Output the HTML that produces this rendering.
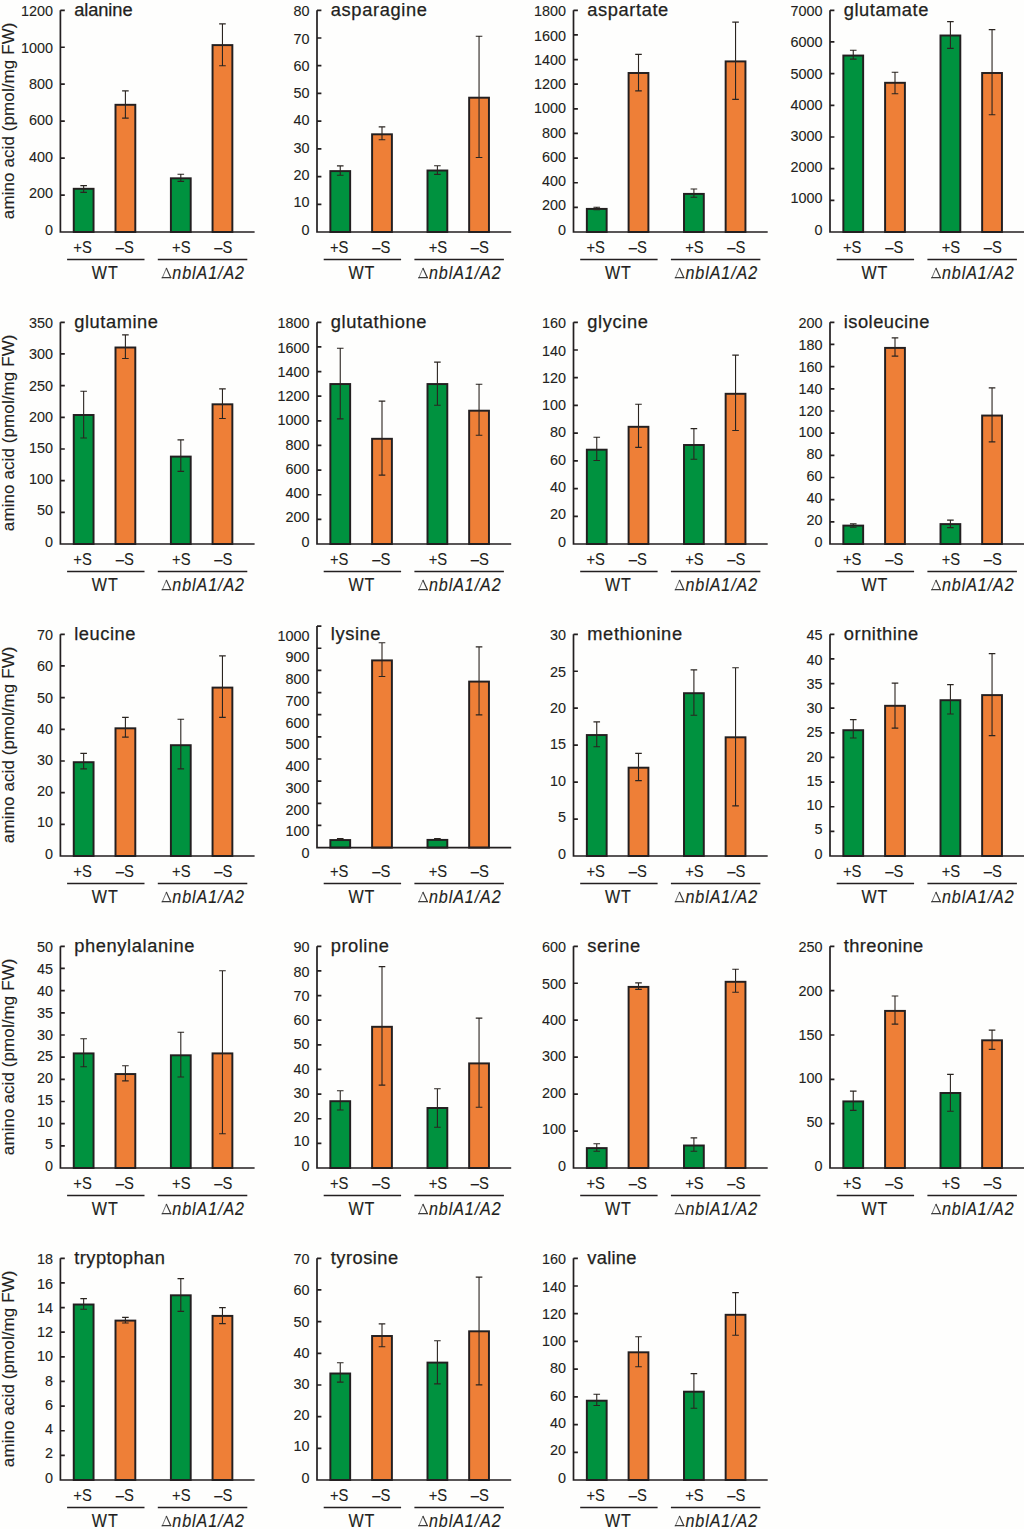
<!DOCTYPE html>
<html><head><meta charset="utf-8"><title>amino acids</title>
<style>
html,body{margin:0;padding:0;background:#fefefd;width:1024px;height:1529px;overflow:hidden}
svg{display:block}
text{font-family:"Liberation Sans",sans-serif;fill:#231f20;stroke:#231f20;stroke-width:0.1px}
.tl{font-size:14.4px;text-anchor:end}
.ti{font-size:18.3px;stroke-width:0.25px}
.xl{font-size:16.8px;text-anchor:middle}
.gl{font-size:18.3px;text-anchor:middle;letter-spacing:1px;stroke-width:0.15px}
.yl{font-size:17px;text-anchor:middle;letter-spacing:0.09px}
.gi{font-size:18.3px;font-style:italic;letter-spacing:1.05px;stroke-width:0.15px}
</style></head><body>
<svg width="1024" height="1529" viewBox="0 0 1024 1529">
<rect width="1024" height="1529" fill="#fefefd"/>
<g transform="translate(0,0)">
<rect x="73.75" y="188.8" width="19.8" height="43.2" fill="#00923f" stroke="#231f20" stroke-width="1.95"/>
<rect x="115.5" y="104.8" width="19.8" height="127.2" fill="#ee7f37" stroke="#231f20" stroke-width="1.95"/>
<rect x="170.9" y="178.3" width="19.8" height="53.7" fill="#00923f" stroke="#231f20" stroke-width="1.95"/>
<rect x="212.55" y="45.1" width="19.8" height="186.9" fill="#ee7f37" stroke="#231f20" stroke-width="1.95"/>
<path d="M83.65 185.6V192.4M80.35 185.6h6.6M80.35 192.4h6.6" stroke="#2a2420" stroke-width="1.1" fill="none"/>
<path d="M125.4 90.9V118.1M122.1 90.9h6.6M122.1 118.1h6.6" stroke="#2a2420" stroke-width="1.1" fill="none"/>
<path d="M180.8 174.3V181.4M177.5 174.3h6.6M177.5 181.4h6.6" stroke="#2a2420" stroke-width="1.1" fill="none"/>
<path d="M222.45 23.9V65.8M219.15 23.9h6.6M219.15 65.8h6.6" stroke="#2a2420" stroke-width="1.1" fill="none"/>
<path d="M60.4 10.3V232H254.6M60.4 10.3h4.4M60.4 47.25h4.4M60.4 84.2h4.4M60.4 121.15h4.4M60.4 158.1h4.4M60.4 195.05h4.4" stroke="#231f20" stroke-width="1.7" fill="none"/>
<text x="53" y="16.3" class="tl">1200</text>
<text x="53" y="52.68" class="tl">1000</text>
<text x="53" y="89.07" class="tl">800</text>
<text x="53" y="125.45" class="tl">600</text>
<text x="53" y="161.83" class="tl">400</text>
<text x="53" y="198.22" class="tl">200</text>
<text x="53" y="234.6" class="tl">0</text>
<text transform="translate(74.2,15.7) scale(1,1)" class="ti" style="letter-spacing:-0.1px">alanine</text>
<text transform="translate(82.6,252.8) scale(0.88,1)" class="xl">+S</text>
<text transform="translate(124.8,252.8) scale(0.88,1)" class="xl">–S</text>
<text transform="translate(181.3,252.8) scale(0.88,1)" class="xl">+S</text>
<text transform="translate(223.2,252.8) scale(0.88,1)" class="xl">–S</text>
<path d="M67.1 259.5H144.5M157.8 259.5H247.3" stroke="#231f20" stroke-width="1.5" fill="none"/>
<text transform="translate(105.2,278.7) scale(0.88,1)" class="gl">WT</text>
<path d="M162.1 278.3L166.5 267.9" stroke="#555" stroke-width="0.8" fill="none"/><path d="M166.3 267.9L171.0 278.3M161.7 277.7H171.4" stroke="#3a3a3a" stroke-width="1.2" fill="none"/>
<text transform="translate(172.3,278.6) scale(0.88,1)" class="gi">nblA1/A2</text>
<text transform="translate(13.5,120.8) rotate(-90)" class="yl">amino acid (pmol/mg FW)</text>
</g>
<g transform="translate(256.6,0)">
<rect x="73.75" y="171.1" width="19.8" height="60.9" fill="#00923f" stroke="#231f20" stroke-width="1.95"/>
<rect x="115.5" y="134.3" width="19.8" height="97.7" fill="#ee7f37" stroke="#231f20" stroke-width="1.95"/>
<rect x="170.9" y="170.5" width="19.8" height="61.5" fill="#00923f" stroke="#231f20" stroke-width="1.95"/>
<rect x="212.55" y="97.7" width="19.8" height="134.3" fill="#ee7f37" stroke="#231f20" stroke-width="1.95"/>
<path d="M83.65 165.9V175.3M80.35 165.9h6.6M80.35 175.3h6.6" stroke="#2a2420" stroke-width="1.1" fill="none"/>
<path d="M125.4 126.9V139.7M122.1 126.9h6.6M122.1 139.7h6.6" stroke="#2a2420" stroke-width="1.1" fill="none"/>
<path d="M180.8 165.75V174.4M177.5 165.75h6.6M177.5 174.4h6.6" stroke="#2a2420" stroke-width="1.1" fill="none"/>
<path d="M222.45 36.2V157.5M219.15 36.2h6.6M219.15 157.5h6.6" stroke="#2a2420" stroke-width="1.1" fill="none"/>
<path d="M60.4 10.3V232H254.6M60.4 10.3h4.4M60.4 38.01h4.4M60.4 65.72h4.4M60.4 93.44h4.4M60.4 121.15h4.4M60.4 148.86h4.4M60.4 176.57h4.4M60.4 204.29h4.4" stroke="#231f20" stroke-width="1.7" fill="none"/>
<text x="53" y="16.3" class="tl">80</text>
<text x="53" y="43.59" class="tl">70</text>
<text x="53" y="70.88" class="tl">60</text>
<text x="53" y="98.16" class="tl">50</text>
<text x="53" y="125.45" class="tl">40</text>
<text x="53" y="152.74" class="tl">30</text>
<text x="53" y="180.03" class="tl">20</text>
<text x="53" y="207.31" class="tl">10</text>
<text x="53" y="234.6" class="tl">0</text>
<text transform="translate(74.2,15.7) scale(1,1)" class="ti" style="letter-spacing:0.62px">asparagine</text>
<text transform="translate(82.6,252.8) scale(0.88,1)" class="xl">+S</text>
<text transform="translate(124.8,252.8) scale(0.88,1)" class="xl">–S</text>
<text transform="translate(181.3,252.8) scale(0.88,1)" class="xl">+S</text>
<text transform="translate(223.2,252.8) scale(0.88,1)" class="xl">–S</text>
<path d="M67.1 259.5H144.5M157.8 259.5H247.3" stroke="#231f20" stroke-width="1.5" fill="none"/>
<text transform="translate(105.2,278.7) scale(0.88,1)" class="gl">WT</text>
<path d="M162.1 278.3L166.5 267.9" stroke="#555" stroke-width="0.8" fill="none"/><path d="M166.3 267.9L171.0 278.3M161.7 277.7H171.4" stroke="#3a3a3a" stroke-width="1.2" fill="none"/>
<text transform="translate(172.3,278.6) scale(0.88,1)" class="gi">nblA1/A2</text>
</g>
<g transform="translate(513.1,0)">
<rect x="73.75" y="208.9" width="19.8" height="23.1" fill="#00923f" stroke="#231f20" stroke-width="1.95"/>
<rect x="115.5" y="73" width="19.8" height="159" fill="#ee7f37" stroke="#231f20" stroke-width="1.95"/>
<rect x="170.9" y="193.9" width="19.8" height="38.1" fill="#00923f" stroke="#231f20" stroke-width="1.95"/>
<rect x="212.55" y="61.4" width="19.8" height="170.6" fill="#ee7f37" stroke="#231f20" stroke-width="1.95"/>
<path d="M83.65 207.2V209.6M80.35 207.2h6.6M80.35 209.6h6.6" stroke="#2a2420" stroke-width="1.1" fill="none"/>
<path d="M125.4 54.4V90.9M122.1 54.4h6.6M122.1 90.9h6.6" stroke="#2a2420" stroke-width="1.1" fill="none"/>
<path d="M180.8 189V197.3M177.5 189h6.6M177.5 197.3h6.6" stroke="#2a2420" stroke-width="1.1" fill="none"/>
<path d="M222.45 22.1V99.4M219.15 22.1h6.6M219.15 99.4h6.6" stroke="#2a2420" stroke-width="1.1" fill="none"/>
<path d="M60.4 10.3V232H254.6M60.4 10.3h4.4M60.4 34.93h4.4M60.4 59.57h4.4M60.4 84.2h4.4M60.4 108.83h4.4M60.4 133.47h4.4M60.4 158.1h4.4M60.4 182.73h4.4M60.4 207.37h4.4" stroke="#231f20" stroke-width="1.7" fill="none"/>
<text x="53" y="16.3" class="tl">1800</text>
<text x="53" y="40.56" class="tl">1600</text>
<text x="53" y="64.81" class="tl">1400</text>
<text x="53" y="89.07" class="tl">1200</text>
<text x="53" y="113.32" class="tl">1000</text>
<text x="53" y="137.58" class="tl">800</text>
<text x="53" y="161.83" class="tl">600</text>
<text x="53" y="186.09" class="tl">400</text>
<text x="53" y="210.34" class="tl">200</text>
<text x="53" y="234.6" class="tl">0</text>
<text transform="translate(74.2,15.7) scale(1,1)" class="ti" style="letter-spacing:0.59px">aspartate</text>
<text transform="translate(82.6,252.8) scale(0.88,1)" class="xl">+S</text>
<text transform="translate(124.8,252.8) scale(0.88,1)" class="xl">–S</text>
<text transform="translate(181.3,252.8) scale(0.88,1)" class="xl">+S</text>
<text transform="translate(223.2,252.8) scale(0.88,1)" class="xl">–S</text>
<path d="M67.1 259.5H144.5M157.8 259.5H247.3" stroke="#231f20" stroke-width="1.5" fill="none"/>
<text transform="translate(105.2,278.7) scale(0.88,1)" class="gl">WT</text>
<path d="M162.1 278.3L166.5 267.9" stroke="#555" stroke-width="0.8" fill="none"/><path d="M166.3 267.9L171.0 278.3M161.7 277.7H171.4" stroke="#3a3a3a" stroke-width="1.2" fill="none"/>
<text transform="translate(172.3,278.6) scale(0.88,1)" class="gi">nblA1/A2</text>
</g>
<g transform="translate(769.6,0)">
<rect x="73.75" y="55.55" width="19.8" height="176.45" fill="#00923f" stroke="#231f20" stroke-width="1.95"/>
<rect x="115.5" y="82.8" width="19.8" height="149.2" fill="#ee7f37" stroke="#231f20" stroke-width="1.95"/>
<rect x="170.9" y="35.5" width="19.8" height="196.5" fill="#00923f" stroke="#231f20" stroke-width="1.95"/>
<rect x="212.55" y="73" width="19.8" height="159" fill="#ee7f37" stroke="#231f20" stroke-width="1.95"/>
<path d="M83.65 50.25V59.1M80.35 50.25h6.6M80.35 59.1h6.6" stroke="#2a2420" stroke-width="1.1" fill="none"/>
<path d="M125.4 72.2V93.75M122.1 72.2h6.6M122.1 93.75h6.6" stroke="#2a2420" stroke-width="1.1" fill="none"/>
<path d="M180.8 21.6V48.4M177.5 21.6h6.6M177.5 48.4h6.6" stroke="#2a2420" stroke-width="1.1" fill="none"/>
<path d="M222.45 29.6V114.75M219.15 29.6h6.6M219.15 114.75h6.6" stroke="#2a2420" stroke-width="1.1" fill="none"/>
<path d="M60.4 10.3V232H254.6M60.4 10.3h4.4M60.4 41.97h4.4M60.4 73.64h4.4M60.4 105.31h4.4M60.4 136.99h4.4M60.4 168.66h4.4M60.4 200.33h4.4" stroke="#231f20" stroke-width="1.7" fill="none"/>
<text x="53" y="16.3" class="tl">7000</text>
<text x="53" y="47.49" class="tl">6000</text>
<text x="53" y="78.67" class="tl">5000</text>
<text x="53" y="109.86" class="tl">4000</text>
<text x="53" y="141.04" class="tl">3000</text>
<text x="53" y="172.23" class="tl">2000</text>
<text x="53" y="203.41" class="tl">1000</text>
<text x="53" y="234.6" class="tl">0</text>
<text transform="translate(74.2,15.7) scale(1,1)" class="ti" style="letter-spacing:0.53px">glutamate</text>
<text transform="translate(82.6,252.8) scale(0.88,1)" class="xl">+S</text>
<text transform="translate(124.8,252.8) scale(0.88,1)" class="xl">–S</text>
<text transform="translate(181.3,252.8) scale(0.88,1)" class="xl">+S</text>
<text transform="translate(223.2,252.8) scale(0.88,1)" class="xl">–S</text>
<path d="M67.1 259.5H144.5M157.8 259.5H247.3" stroke="#231f20" stroke-width="1.5" fill="none"/>
<text transform="translate(105.2,278.7) scale(0.88,1)" class="gl">WT</text>
<path d="M162.1 278.3L166.5 267.9" stroke="#555" stroke-width="0.8" fill="none"/><path d="M166.3 267.9L171.0 278.3M161.7 277.7H171.4" stroke="#3a3a3a" stroke-width="1.2" fill="none"/>
<text transform="translate(172.3,278.6) scale(0.88,1)" class="gi">nblA1/A2</text>
</g>
<g transform="translate(0,312)">
<rect x="73.75" y="103" width="19.8" height="129" fill="#00923f" stroke="#231f20" stroke-width="1.95"/>
<rect x="115.5" y="35.5" width="19.8" height="196.5" fill="#ee7f37" stroke="#231f20" stroke-width="1.95"/>
<rect x="170.9" y="144.6" width="19.8" height="87.4" fill="#00923f" stroke="#231f20" stroke-width="1.95"/>
<rect x="212.55" y="92.3" width="19.8" height="139.7" fill="#ee7f37" stroke="#231f20" stroke-width="1.95"/>
<path d="M83.65 79.3V126M80.35 79.3h6.6M80.35 126h6.6" stroke="#2a2420" stroke-width="1.1" fill="none"/>
<path d="M125.4 22.9V46.5M122.1 22.9h6.6M122.1 46.5h6.6" stroke="#2a2420" stroke-width="1.1" fill="none"/>
<path d="M180.8 127.9V159.4M177.5 127.9h6.6M177.5 159.4h6.6" stroke="#2a2420" stroke-width="1.1" fill="none"/>
<path d="M222.45 76.9V106.5M219.15 76.9h6.6M219.15 106.5h6.6" stroke="#2a2420" stroke-width="1.1" fill="none"/>
<path d="M60.4 10.3V232H254.6M60.4 10.3h4.4M60.4 41.97h4.4M60.4 73.64h4.4M60.4 105.31h4.4M60.4 136.99h4.4M60.4 168.66h4.4M60.4 200.33h4.4" stroke="#231f20" stroke-width="1.7" fill="none"/>
<text x="53" y="16.3" class="tl">350</text>
<text x="53" y="47.49" class="tl">300</text>
<text x="53" y="78.67" class="tl">250</text>
<text x="53" y="109.86" class="tl">200</text>
<text x="53" y="141.04" class="tl">150</text>
<text x="53" y="172.23" class="tl">100</text>
<text x="53" y="203.41" class="tl">50</text>
<text x="53" y="234.6" class="tl">0</text>
<text transform="translate(74.2,15.7) scale(1,1)" class="ti" style="letter-spacing:0.56px">glutamine</text>
<text transform="translate(82.6,252.8) scale(0.88,1)" class="xl">+S</text>
<text transform="translate(124.8,252.8) scale(0.88,1)" class="xl">–S</text>
<text transform="translate(181.3,252.8) scale(0.88,1)" class="xl">+S</text>
<text transform="translate(223.2,252.8) scale(0.88,1)" class="xl">–S</text>
<path d="M67.1 259.5H144.5M157.8 259.5H247.3" stroke="#231f20" stroke-width="1.5" fill="none"/>
<text transform="translate(105.2,278.7) scale(0.88,1)" class="gl">WT</text>
<path d="M162.1 278.3L166.5 267.9" stroke="#555" stroke-width="0.8" fill="none"/><path d="M166.3 267.9L171.0 278.3M161.7 277.7H171.4" stroke="#3a3a3a" stroke-width="1.2" fill="none"/>
<text transform="translate(172.3,278.6) scale(0.88,1)" class="gi">nblA1/A2</text>
<text transform="translate(13.5,120.8) rotate(-90)" class="yl">amino acid (pmol/mg FW)</text>
</g>
<g transform="translate(256.6,312)">
<rect x="73.75" y="72.05" width="19.8" height="159.95" fill="#00923f" stroke="#231f20" stroke-width="1.95"/>
<rect x="115.5" y="126.8" width="19.8" height="105.2" fill="#ee7f37" stroke="#231f20" stroke-width="1.95"/>
<rect x="170.9" y="72.05" width="19.8" height="159.95" fill="#00923f" stroke="#231f20" stroke-width="1.95"/>
<rect x="212.55" y="98.7" width="19.8" height="133.3" fill="#ee7f37" stroke="#231f20" stroke-width="1.95"/>
<path d="M83.65 36.2V106.9M80.35 36.2h6.6M80.35 106.9h6.6" stroke="#2a2420" stroke-width="1.1" fill="none"/>
<path d="M125.4 89.1V163.1M122.1 89.1h6.6M122.1 163.1h6.6" stroke="#2a2420" stroke-width="1.1" fill="none"/>
<path d="M180.8 50.1V93.2M177.5 50.1h6.6M177.5 93.2h6.6" stroke="#2a2420" stroke-width="1.1" fill="none"/>
<path d="M222.45 72.2V123.2M219.15 72.2h6.6M219.15 123.2h6.6" stroke="#2a2420" stroke-width="1.1" fill="none"/>
<path d="M60.4 10.3V232H254.6M60.4 10.3h4.4M60.4 34.93h4.4M60.4 59.57h4.4M60.4 84.2h4.4M60.4 108.83h4.4M60.4 133.47h4.4M60.4 158.1h4.4M60.4 182.73h4.4M60.4 207.37h4.4" stroke="#231f20" stroke-width="1.7" fill="none"/>
<text x="53" y="16.3" class="tl">1800</text>
<text x="53" y="40.56" class="tl">1600</text>
<text x="53" y="64.81" class="tl">1400</text>
<text x="53" y="89.07" class="tl">1200</text>
<text x="53" y="113.32" class="tl">1000</text>
<text x="53" y="137.58" class="tl">800</text>
<text x="53" y="161.83" class="tl">600</text>
<text x="53" y="186.09" class="tl">400</text>
<text x="53" y="210.34" class="tl">200</text>
<text x="53" y="234.6" class="tl">0</text>
<text transform="translate(74.2,15.7) scale(1,1)" class="ti" style="letter-spacing:0.62px">glutathione</text>
<text transform="translate(82.6,252.8) scale(0.88,1)" class="xl">+S</text>
<text transform="translate(124.8,252.8) scale(0.88,1)" class="xl">–S</text>
<text transform="translate(181.3,252.8) scale(0.88,1)" class="xl">+S</text>
<text transform="translate(223.2,252.8) scale(0.88,1)" class="xl">–S</text>
<path d="M67.1 259.5H144.5M157.8 259.5H247.3" stroke="#231f20" stroke-width="1.5" fill="none"/>
<text transform="translate(105.2,278.7) scale(0.88,1)" class="gl">WT</text>
<path d="M162.1 278.3L166.5 267.9" stroke="#555" stroke-width="0.8" fill="none"/><path d="M166.3 267.9L171.0 278.3M161.7 277.7H171.4" stroke="#3a3a3a" stroke-width="1.2" fill="none"/>
<text transform="translate(172.3,278.6) scale(0.88,1)" class="gi">nblA1/A2</text>
</g>
<g transform="translate(513.1,312)">
<rect x="73.75" y="137.7" width="19.8" height="94.3" fill="#00923f" stroke="#231f20" stroke-width="1.95"/>
<rect x="115.5" y="114.8" width="19.8" height="117.2" fill="#ee7f37" stroke="#231f20" stroke-width="1.95"/>
<rect x="170.9" y="133" width="19.8" height="99" fill="#00923f" stroke="#231f20" stroke-width="1.95"/>
<rect x="212.55" y="81.8" width="19.8" height="150.2" fill="#ee7f37" stroke="#231f20" stroke-width="1.95"/>
<path d="M83.65 125.25V148.5M80.35 125.25h6.6M80.35 148.5h6.6" stroke="#2a2420" stroke-width="1.1" fill="none"/>
<path d="M125.4 92.25V135.4M122.1 92.25h6.6M122.1 135.4h6.6" stroke="#2a2420" stroke-width="1.1" fill="none"/>
<path d="M180.8 116.6V147.2M177.5 116.6h6.6M177.5 147.2h6.6" stroke="#2a2420" stroke-width="1.1" fill="none"/>
<path d="M222.45 43.1V118.5M219.15 43.1h6.6M219.15 118.5h6.6" stroke="#2a2420" stroke-width="1.1" fill="none"/>
<path d="M60.4 10.3V232H254.6M60.4 10.3h4.4M60.4 38.01h4.4M60.4 65.72h4.4M60.4 93.44h4.4M60.4 121.15h4.4M60.4 148.86h4.4M60.4 176.57h4.4M60.4 204.29h4.4" stroke="#231f20" stroke-width="1.7" fill="none"/>
<text x="53" y="16.3" class="tl">160</text>
<text x="53" y="43.59" class="tl">140</text>
<text x="53" y="70.88" class="tl">120</text>
<text x="53" y="98.16" class="tl">100</text>
<text x="53" y="125.45" class="tl">80</text>
<text x="53" y="152.74" class="tl">60</text>
<text x="53" y="180.03" class="tl">40</text>
<text x="53" y="207.31" class="tl">20</text>
<text x="53" y="234.6" class="tl">0</text>
<text transform="translate(74.2,15.7) scale(1,1)" class="ti" style="letter-spacing:0.62px">glycine</text>
<text transform="translate(82.6,252.8) scale(0.88,1)" class="xl">+S</text>
<text transform="translate(124.8,252.8) scale(0.88,1)" class="xl">–S</text>
<text transform="translate(181.3,252.8) scale(0.88,1)" class="xl">+S</text>
<text transform="translate(223.2,252.8) scale(0.88,1)" class="xl">–S</text>
<path d="M67.1 259.5H144.5M157.8 259.5H247.3" stroke="#231f20" stroke-width="1.5" fill="none"/>
<text transform="translate(105.2,278.7) scale(0.88,1)" class="gl">WT</text>
<path d="M162.1 278.3L166.5 267.9" stroke="#555" stroke-width="0.8" fill="none"/><path d="M166.3 267.9L171.0 278.3M161.7 277.7H171.4" stroke="#3a3a3a" stroke-width="1.2" fill="none"/>
<text transform="translate(172.3,278.6) scale(0.88,1)" class="gi">nblA1/A2</text>
</g>
<g transform="translate(769.6,312)">
<rect x="73.75" y="213.6" width="19.8" height="18.4" fill="#00923f" stroke="#231f20" stroke-width="1.95"/>
<rect x="115.5" y="35.9" width="19.8" height="196.1" fill="#ee7f37" stroke="#231f20" stroke-width="1.95"/>
<rect x="170.9" y="212.1" width="19.8" height="19.9" fill="#00923f" stroke="#231f20" stroke-width="1.95"/>
<rect x="212.55" y="103.55" width="19.8" height="128.45" fill="#ee7f37" stroke="#231f20" stroke-width="1.95"/>
<path d="M83.65 211.9V215.3M80.35 211.9h6.6M80.35 215.3h6.6" stroke="#2a2420" stroke-width="1.1" fill="none"/>
<path d="M125.4 25.9V44.1M122.1 25.9h6.6M122.1 44.1h6.6" stroke="#2a2420" stroke-width="1.1" fill="none"/>
<path d="M180.8 208.1V215.6M177.5 208.1h6.6M177.5 215.6h6.6" stroke="#2a2420" stroke-width="1.1" fill="none"/>
<path d="M222.45 75.9V129.9M219.15 75.9h6.6M219.15 129.9h6.6" stroke="#2a2420" stroke-width="1.1" fill="none"/>
<path d="M60.4 10.3V232H254.6M60.4 10.3h4.4M60.4 32.47h4.4M60.4 54.64h4.4M60.4 76.81h4.4M60.4 98.98h4.4M60.4 121.15h4.4M60.4 143.32h4.4M60.4 165.49h4.4M60.4 187.66h4.4M60.4 209.83h4.4" stroke="#231f20" stroke-width="1.7" fill="none"/>
<text x="53" y="16.3" class="tl">200</text>
<text x="53" y="38.13" class="tl">180</text>
<text x="53" y="59.96" class="tl">160</text>
<text x="53" y="81.79" class="tl">140</text>
<text x="53" y="103.62" class="tl">120</text>
<text x="53" y="125.45" class="tl">100</text>
<text x="53" y="147.28" class="tl">80</text>
<text x="53" y="169.11" class="tl">60</text>
<text x="53" y="190.94" class="tl">40</text>
<text x="53" y="212.77" class="tl">20</text>
<text x="53" y="234.6" class="tl">0</text>
<text transform="translate(74.2,15.7) scale(1,1)" class="ti" style="letter-spacing:0.48px">isoleucine</text>
<text transform="translate(82.6,252.8) scale(0.88,1)" class="xl">+S</text>
<text transform="translate(124.8,252.8) scale(0.88,1)" class="xl">–S</text>
<text transform="translate(181.3,252.8) scale(0.88,1)" class="xl">+S</text>
<text transform="translate(223.2,252.8) scale(0.88,1)" class="xl">–S</text>
<path d="M67.1 259.5H144.5M157.8 259.5H247.3" stroke="#231f20" stroke-width="1.5" fill="none"/>
<text transform="translate(105.2,278.7) scale(0.88,1)" class="gl">WT</text>
<path d="M162.1 278.3L166.5 267.9" stroke="#555" stroke-width="0.8" fill="none"/><path d="M166.3 267.9L171.0 278.3M161.7 277.7H171.4" stroke="#3a3a3a" stroke-width="1.2" fill="none"/>
<text transform="translate(172.3,278.6) scale(0.88,1)" class="gi">nblA1/A2</text>
</g>
<g transform="translate(0,624)">
<rect x="73.75" y="138.2" width="19.8" height="93.8" fill="#00923f" stroke="#231f20" stroke-width="1.95"/>
<rect x="115.5" y="104.3" width="19.8" height="127.7" fill="#ee7f37" stroke="#231f20" stroke-width="1.95"/>
<rect x="170.9" y="121.2" width="19.8" height="110.8" fill="#00923f" stroke="#231f20" stroke-width="1.95"/>
<rect x="212.55" y="63.6" width="19.8" height="168.4" fill="#ee7f37" stroke="#231f20" stroke-width="1.95"/>
<path d="M83.65 129.4V144.9M80.35 129.4h6.6M80.35 144.9h6.6" stroke="#2a2420" stroke-width="1.1" fill="none"/>
<path d="M125.4 93.4V113.1M122.1 93.4h6.6M122.1 113.1h6.6" stroke="#2a2420" stroke-width="1.1" fill="none"/>
<path d="M180.8 95.25V144.9M177.5 95.25h6.6M177.5 144.9h6.6" stroke="#2a2420" stroke-width="1.1" fill="none"/>
<path d="M222.45 31.9V93.4M219.15 31.9h6.6M219.15 93.4h6.6" stroke="#2a2420" stroke-width="1.1" fill="none"/>
<path d="M60.4 10.3V232H254.6M60.4 10.3h4.4M60.4 41.97h4.4M60.4 73.64h4.4M60.4 105.31h4.4M60.4 136.99h4.4M60.4 168.66h4.4M60.4 200.33h4.4" stroke="#231f20" stroke-width="1.7" fill="none"/>
<text x="53" y="16.3" class="tl">70</text>
<text x="53" y="47.49" class="tl">60</text>
<text x="53" y="78.67" class="tl">50</text>
<text x="53" y="109.86" class="tl">40</text>
<text x="53" y="141.04" class="tl">30</text>
<text x="53" y="172.23" class="tl">20</text>
<text x="53" y="203.41" class="tl">10</text>
<text x="53" y="234.6" class="tl">0</text>
<text transform="translate(74.2,15.7) scale(1,1)" class="ti" style="letter-spacing:0.55px">leucine</text>
<text transform="translate(82.6,252.8) scale(0.88,1)" class="xl">+S</text>
<text transform="translate(124.8,252.8) scale(0.88,1)" class="xl">–S</text>
<text transform="translate(181.3,252.8) scale(0.88,1)" class="xl">+S</text>
<text transform="translate(223.2,252.8) scale(0.88,1)" class="xl">–S</text>
<path d="M67.1 259.5H144.5M157.8 259.5H247.3" stroke="#231f20" stroke-width="1.5" fill="none"/>
<text transform="translate(105.2,278.7) scale(0.88,1)" class="gl">WT</text>
<path d="M162.1 278.3L166.5 267.9" stroke="#555" stroke-width="0.8" fill="none"/><path d="M166.3 267.9L171.0 278.3M161.7 277.7H171.4" stroke="#3a3a3a" stroke-width="1.2" fill="none"/>
<text transform="translate(172.3,278.6) scale(0.88,1)" class="gi">nblA1/A2</text>
<text transform="translate(13.5,120.8) rotate(-90)" class="yl">amino acid (pmol/mg FW)</text>
</g>
<g transform="translate(256.6,624)">
<rect x="73.75" y="216.05" width="19.8" height="7.55" fill="#00923f" stroke="#231f20" stroke-width="1.95"/>
<rect x="115.5" y="36.4" width="19.8" height="187.2" fill="#ee7f37" stroke="#231f20" stroke-width="1.95"/>
<rect x="170.9" y="215.9" width="19.8" height="7.7" fill="#00923f" stroke="#231f20" stroke-width="1.95"/>
<rect x="212.55" y="57.6" width="19.8" height="166" fill="#ee7f37" stroke="#231f20" stroke-width="1.95"/>
<path d="M83.65 214.6V215.9M80.35 214.6h6.6M80.35 215.9h6.6" stroke="#2a2420" stroke-width="1.1" fill="none"/>
<path d="M125.4 18.75V52.5M122.1 18.75h6.6M122.1 52.5h6.6" stroke="#2a2420" stroke-width="1.1" fill="none"/>
<path d="M180.8 214.5V215.8M177.5 214.5h6.6M177.5 215.8h6.6" stroke="#2a2420" stroke-width="1.1" fill="none"/>
<path d="M222.45 22.9V90.9M219.15 22.9h6.6M219.15 90.9h6.6" stroke="#2a2420" stroke-width="1.1" fill="none"/>
<path d="M60.4 2.1V223.6H254.6M60.4 2.1h4.4M60.4 24.25h4.4M60.4 46.4h4.4M60.4 68.55h4.4M60.4 90.7h4.4M60.4 112.85h4.4M60.4 135h4.4M60.4 157.15h4.4M60.4 179.3h4.4M60.4 201.45h4.4" stroke="#231f20" stroke-width="1.7" fill="none"/>
<text x="53" y="16.6" class="tl">1000</text>
<text x="53" y="38.36" class="tl">900</text>
<text x="53" y="60.12" class="tl">800</text>
<text x="53" y="81.88" class="tl">700</text>
<text x="53" y="103.64" class="tl">600</text>
<text x="53" y="125.4" class="tl">500</text>
<text x="53" y="147.16" class="tl">400</text>
<text x="53" y="168.92" class="tl">300</text>
<text x="53" y="190.68" class="tl">200</text>
<text x="53" y="212.44" class="tl">100</text>
<text x="53" y="234.2" class="tl">0</text>
<text transform="translate(74.2,15.7) scale(1,1)" class="ti" style="letter-spacing:0.58px">lysine</text>
<text transform="translate(82.6,252.8) scale(0.88,1)" class="xl">+S</text>
<text transform="translate(124.8,252.8) scale(0.88,1)" class="xl">–S</text>
<text transform="translate(181.3,252.8) scale(0.88,1)" class="xl">+S</text>
<text transform="translate(223.2,252.8) scale(0.88,1)" class="xl">–S</text>
<path d="M67.1 259.5H144.5M157.8 259.5H247.3" stroke="#231f20" stroke-width="1.5" fill="none"/>
<text transform="translate(105.2,278.7) scale(0.88,1)" class="gl">WT</text>
<path d="M162.1 278.3L166.5 267.9" stroke="#555" stroke-width="0.8" fill="none"/><path d="M166.3 267.9L171.0 278.3M161.7 277.7H171.4" stroke="#3a3a3a" stroke-width="1.2" fill="none"/>
<text transform="translate(172.3,278.6) scale(0.88,1)" class="gi">nblA1/A2</text>
</g>
<g transform="translate(513.1,624)">
<rect x="73.75" y="111.05" width="19.8" height="120.95" fill="#00923f" stroke="#231f20" stroke-width="1.95"/>
<rect x="115.5" y="143.7" width="19.8" height="88.3" fill="#ee7f37" stroke="#231f20" stroke-width="1.95"/>
<rect x="170.9" y="69.2" width="19.8" height="162.8" fill="#00923f" stroke="#231f20" stroke-width="1.95"/>
<rect x="212.55" y="113.3" width="19.8" height="118.7" fill="#ee7f37" stroke="#231f20" stroke-width="1.95"/>
<path d="M83.65 97.9V122.8M80.35 97.9h6.6M80.35 122.8h6.6" stroke="#2a2420" stroke-width="1.1" fill="none"/>
<path d="M125.4 129.4V156.6M122.1 129.4h6.6M122.1 156.6h6.6" stroke="#2a2420" stroke-width="1.1" fill="none"/>
<path d="M180.8 45.9V91.3M177.5 45.9h6.6M177.5 91.3h6.6" stroke="#2a2420" stroke-width="1.1" fill="none"/>
<path d="M222.45 43.7V181.9M219.15 43.7h6.6M219.15 181.9h6.6" stroke="#2a2420" stroke-width="1.1" fill="none"/>
<path d="M60.4 10.3V232H254.6M60.4 10.3h4.4M60.4 47.25h4.4M60.4 84.2h4.4M60.4 121.15h4.4M60.4 158.1h4.4M60.4 195.05h4.4" stroke="#231f20" stroke-width="1.7" fill="none"/>
<text x="53" y="16.3" class="tl">30</text>
<text x="53" y="52.68" class="tl">25</text>
<text x="53" y="89.07" class="tl">20</text>
<text x="53" y="125.45" class="tl">15</text>
<text x="53" y="161.83" class="tl">10</text>
<text x="53" y="198.22" class="tl">5</text>
<text x="53" y="234.6" class="tl">0</text>
<text transform="translate(74.2,15.7) scale(1,1)" class="ti" style="letter-spacing:0.59px">methionine</text>
<text transform="translate(82.6,252.8) scale(0.88,1)" class="xl">+S</text>
<text transform="translate(124.8,252.8) scale(0.88,1)" class="xl">–S</text>
<text transform="translate(181.3,252.8) scale(0.88,1)" class="xl">+S</text>
<text transform="translate(223.2,252.8) scale(0.88,1)" class="xl">–S</text>
<path d="M67.1 259.5H144.5M157.8 259.5H247.3" stroke="#231f20" stroke-width="1.5" fill="none"/>
<text transform="translate(105.2,278.7) scale(0.88,1)" class="gl">WT</text>
<path d="M162.1 278.3L166.5 267.9" stroke="#555" stroke-width="0.8" fill="none"/><path d="M166.3 267.9L171.0 278.3M161.7 277.7H171.4" stroke="#3a3a3a" stroke-width="1.2" fill="none"/>
<text transform="translate(172.3,278.6) scale(0.88,1)" class="gi">nblA1/A2</text>
</g>
<g transform="translate(769.6,624)">
<rect x="73.75" y="106.2" width="19.8" height="125.8" fill="#00923f" stroke="#231f20" stroke-width="1.95"/>
<rect x="115.5" y="81.8" width="19.8" height="150.2" fill="#ee7f37" stroke="#231f20" stroke-width="1.95"/>
<rect x="170.9" y="76.2" width="19.8" height="155.8" fill="#00923f" stroke="#231f20" stroke-width="1.95"/>
<rect x="212.55" y="71.1" width="19.8" height="160.9" fill="#ee7f37" stroke="#231f20" stroke-width="1.95"/>
<path d="M83.65 95.6V114M80.35 95.6h6.6M80.35 114h6.6" stroke="#2a2420" stroke-width="1.1" fill="none"/>
<path d="M125.4 59.1V104.1M122.1 59.1h6.6M122.1 104.1h6.6" stroke="#2a2420" stroke-width="1.1" fill="none"/>
<path d="M180.8 60.6V90M177.5 60.6h6.6M177.5 90h6.6" stroke="#2a2420" stroke-width="1.1" fill="none"/>
<path d="M222.45 29.6V111.6M219.15 29.6h6.6M219.15 111.6h6.6" stroke="#2a2420" stroke-width="1.1" fill="none"/>
<path d="M60.4 10.3V232H254.6M60.4 10.3h4.4M60.4 34.93h4.4M60.4 59.57h4.4M60.4 84.2h4.4M60.4 108.83h4.4M60.4 133.47h4.4M60.4 158.1h4.4M60.4 182.73h4.4M60.4 207.37h4.4" stroke="#231f20" stroke-width="1.7" fill="none"/>
<text x="53" y="16.3" class="tl">45</text>
<text x="53" y="40.56" class="tl">40</text>
<text x="53" y="64.81" class="tl">35</text>
<text x="53" y="89.07" class="tl">30</text>
<text x="53" y="113.32" class="tl">25</text>
<text x="53" y="137.58" class="tl">20</text>
<text x="53" y="161.83" class="tl">15</text>
<text x="53" y="186.09" class="tl">10</text>
<text x="53" y="210.34" class="tl">5</text>
<text x="53" y="234.6" class="tl">0</text>
<text transform="translate(74.2,15.7) scale(1,1)" class="ti" style="letter-spacing:0.54px">ornithine</text>
<text transform="translate(82.6,252.8) scale(0.88,1)" class="xl">+S</text>
<text transform="translate(124.8,252.8) scale(0.88,1)" class="xl">–S</text>
<text transform="translate(181.3,252.8) scale(0.88,1)" class="xl">+S</text>
<text transform="translate(223.2,252.8) scale(0.88,1)" class="xl">–S</text>
<path d="M67.1 259.5H144.5M157.8 259.5H247.3" stroke="#231f20" stroke-width="1.5" fill="none"/>
<text transform="translate(105.2,278.7) scale(0.88,1)" class="gl">WT</text>
<path d="M162.1 278.3L166.5 267.9" stroke="#555" stroke-width="0.8" fill="none"/><path d="M166.3 267.9L171.0 278.3M161.7 277.7H171.4" stroke="#3a3a3a" stroke-width="1.2" fill="none"/>
<text transform="translate(172.3,278.6) scale(0.88,1)" class="gi">nblA1/A2</text>
</g>
<g transform="translate(0,936)">
<rect x="73.75" y="117.4" width="19.8" height="114.6" fill="#00923f" stroke="#231f20" stroke-width="1.95"/>
<rect x="115.5" y="138.05" width="19.8" height="93.95" fill="#ee7f37" stroke="#231f20" stroke-width="1.95"/>
<rect x="170.9" y="119.3" width="19.8" height="112.7" fill="#00923f" stroke="#231f20" stroke-width="1.95"/>
<rect x="212.55" y="117.4" width="19.8" height="114.6" fill="#ee7f37" stroke="#231f20" stroke-width="1.95"/>
<path d="M83.65 102.75V130.7M80.35 102.75h6.6M80.35 130.7h6.6" stroke="#2a2420" stroke-width="1.1" fill="none"/>
<path d="M125.4 129.75V144.9M122.1 129.75h6.6M122.1 144.9h6.6" stroke="#2a2420" stroke-width="1.1" fill="none"/>
<path d="M180.8 96.2V141M177.5 96.2h6.6M177.5 141h6.6" stroke="#2a2420" stroke-width="1.1" fill="none"/>
<path d="M222.45 34.7V197.8M219.15 34.7h6.6M219.15 197.8h6.6" stroke="#2a2420" stroke-width="1.1" fill="none"/>
<path d="M60.4 10.3V232H254.6M60.4 10.3h4.4M60.4 32.47h4.4M60.4 54.64h4.4M60.4 76.81h4.4M60.4 98.98h4.4M60.4 121.15h4.4M60.4 143.32h4.4M60.4 165.49h4.4M60.4 187.66h4.4M60.4 209.83h4.4" stroke="#231f20" stroke-width="1.7" fill="none"/>
<text x="53" y="16.3" class="tl">50</text>
<text x="53" y="38.13" class="tl">45</text>
<text x="53" y="59.96" class="tl">40</text>
<text x="53" y="81.79" class="tl">35</text>
<text x="53" y="103.62" class="tl">30</text>
<text x="53" y="125.45" class="tl">25</text>
<text x="53" y="147.28" class="tl">20</text>
<text x="53" y="169.11" class="tl">15</text>
<text x="53" y="190.94" class="tl">10</text>
<text x="53" y="212.77" class="tl">5</text>
<text x="53" y="234.6" class="tl">0</text>
<text transform="translate(74.2,15.7) scale(1,1)" class="ti" style="letter-spacing:0.61px">phenylalanine</text>
<text transform="translate(82.6,252.8) scale(0.88,1)" class="xl">+S</text>
<text transform="translate(124.8,252.8) scale(0.88,1)" class="xl">–S</text>
<text transform="translate(181.3,252.8) scale(0.88,1)" class="xl">+S</text>
<text transform="translate(223.2,252.8) scale(0.88,1)" class="xl">–S</text>
<path d="M67.1 259.5H144.5M157.8 259.5H247.3" stroke="#231f20" stroke-width="1.5" fill="none"/>
<text transform="translate(105.2,278.7) scale(0.88,1)" class="gl">WT</text>
<path d="M162.1 278.3L166.5 267.9" stroke="#555" stroke-width="0.8" fill="none"/><path d="M166.3 267.9L171.0 278.3M161.7 277.7H171.4" stroke="#3a3a3a" stroke-width="1.2" fill="none"/>
<text transform="translate(172.3,278.6) scale(0.88,1)" class="gi">nblA1/A2</text>
<text transform="translate(13.5,120.8) rotate(-90)" class="yl">amino acid (pmol/mg FW)</text>
</g>
<g transform="translate(256.6,936)">
<rect x="73.75" y="165.2" width="19.8" height="66.8" fill="#00923f" stroke="#231f20" stroke-width="1.95"/>
<rect x="115.5" y="90.8" width="19.8" height="141.2" fill="#ee7f37" stroke="#231f20" stroke-width="1.95"/>
<rect x="170.9" y="172" width="19.8" height="60" fill="#00923f" stroke="#231f20" stroke-width="1.95"/>
<rect x="212.55" y="127.4" width="19.8" height="104.6" fill="#ee7f37" stroke="#231f20" stroke-width="1.95"/>
<path d="M83.65 154.7V174M80.35 154.7h6.6M80.35 174h6.6" stroke="#2a2420" stroke-width="1.1" fill="none"/>
<path d="M125.4 30.6V149.1M122.1 30.6h6.6M122.1 149.1h6.6" stroke="#2a2420" stroke-width="1.1" fill="none"/>
<path d="M180.8 152.8V191.25M177.5 152.8h6.6M177.5 191.25h6.6" stroke="#2a2420" stroke-width="1.1" fill="none"/>
<path d="M222.45 82.1V171.2M219.15 82.1h6.6M219.15 171.2h6.6" stroke="#2a2420" stroke-width="1.1" fill="none"/>
<path d="M60.4 10.3V232H254.6M60.4 10.3h4.4M60.4 34.93h4.4M60.4 59.57h4.4M60.4 84.2h4.4M60.4 108.83h4.4M60.4 133.47h4.4M60.4 158.1h4.4M60.4 182.73h4.4M60.4 207.37h4.4" stroke="#231f20" stroke-width="1.7" fill="none"/>
<text x="53" y="16.3" class="tl">90</text>
<text x="53" y="40.56" class="tl">80</text>
<text x="53" y="64.81" class="tl">70</text>
<text x="53" y="89.07" class="tl">60</text>
<text x="53" y="113.32" class="tl">50</text>
<text x="53" y="137.58" class="tl">40</text>
<text x="53" y="161.83" class="tl">30</text>
<text x="53" y="186.09" class="tl">20</text>
<text x="53" y="210.34" class="tl">10</text>
<text x="53" y="234.6" class="tl">0</text>
<text transform="translate(74.2,15.7) scale(1,1)" class="ti" style="letter-spacing:0.52px">proline</text>
<text transform="translate(82.6,252.8) scale(0.88,1)" class="xl">+S</text>
<text transform="translate(124.8,252.8) scale(0.88,1)" class="xl">–S</text>
<text transform="translate(181.3,252.8) scale(0.88,1)" class="xl">+S</text>
<text transform="translate(223.2,252.8) scale(0.88,1)" class="xl">–S</text>
<path d="M67.1 259.5H144.5M157.8 259.5H247.3" stroke="#231f20" stroke-width="1.5" fill="none"/>
<text transform="translate(105.2,278.7) scale(0.88,1)" class="gl">WT</text>
<path d="M162.1 278.3L166.5 267.9" stroke="#555" stroke-width="0.8" fill="none"/><path d="M166.3 267.9L171.0 278.3M161.7 277.7H171.4" stroke="#3a3a3a" stroke-width="1.2" fill="none"/>
<text transform="translate(172.3,278.6) scale(0.88,1)" class="gi">nblA1/A2</text>
</g>
<g transform="translate(513.1,936)">
<rect x="73.75" y="212.1" width="19.8" height="19.9" fill="#00923f" stroke="#231f20" stroke-width="1.95"/>
<rect x="115.5" y="50.9" width="19.8" height="181.1" fill="#ee7f37" stroke="#231f20" stroke-width="1.95"/>
<rect x="170.9" y="209.5" width="19.8" height="22.5" fill="#00923f" stroke="#231f20" stroke-width="1.95"/>
<rect x="212.55" y="45.8" width="19.8" height="186.2" fill="#ee7f37" stroke="#231f20" stroke-width="1.95"/>
<path d="M83.65 207.75V215.25M80.35 207.75h6.6M80.35 215.25h6.6" stroke="#2a2420" stroke-width="1.1" fill="none"/>
<path d="M125.4 46.9V53.4M122.1 46.9h6.6M122.1 53.4h6.6" stroke="#2a2420" stroke-width="1.1" fill="none"/>
<path d="M180.8 201.9V215.25M177.5 201.9h6.6M177.5 215.25h6.6" stroke="#2a2420" stroke-width="1.1" fill="none"/>
<path d="M222.45 33.2V56.25M219.15 33.2h6.6M219.15 56.25h6.6" stroke="#2a2420" stroke-width="1.1" fill="none"/>
<path d="M60.4 10.3V232H254.6M60.4 10.3h4.4M60.4 47.25h4.4M60.4 84.2h4.4M60.4 121.15h4.4M60.4 158.1h4.4M60.4 195.05h4.4" stroke="#231f20" stroke-width="1.7" fill="none"/>
<text x="53" y="16.3" class="tl">600</text>
<text x="53" y="52.68" class="tl">500</text>
<text x="53" y="89.07" class="tl">400</text>
<text x="53" y="125.45" class="tl">300</text>
<text x="53" y="161.83" class="tl">200</text>
<text x="53" y="198.22" class="tl">100</text>
<text x="53" y="234.6" class="tl">0</text>
<text transform="translate(74.2,15.7) scale(1,1)" class="ti" style="letter-spacing:0.62px">serine</text>
<text transform="translate(82.6,252.8) scale(0.88,1)" class="xl">+S</text>
<text transform="translate(124.8,252.8) scale(0.88,1)" class="xl">–S</text>
<text transform="translate(181.3,252.8) scale(0.88,1)" class="xl">+S</text>
<text transform="translate(223.2,252.8) scale(0.88,1)" class="xl">–S</text>
<path d="M67.1 259.5H144.5M157.8 259.5H247.3" stroke="#231f20" stroke-width="1.5" fill="none"/>
<text transform="translate(105.2,278.7) scale(0.88,1)" class="gl">WT</text>
<path d="M162.1 278.3L166.5 267.9" stroke="#555" stroke-width="0.8" fill="none"/><path d="M166.3 267.9L171.0 278.3M161.7 277.7H171.4" stroke="#3a3a3a" stroke-width="1.2" fill="none"/>
<text transform="translate(172.3,278.6) scale(0.88,1)" class="gi">nblA1/A2</text>
</g>
<g transform="translate(769.6,936)">
<rect x="73.75" y="165.4" width="19.8" height="66.6" fill="#00923f" stroke="#231f20" stroke-width="1.95"/>
<rect x="115.5" y="74.9" width="19.8" height="157.1" fill="#ee7f37" stroke="#231f20" stroke-width="1.95"/>
<rect x="170.9" y="157" width="19.8" height="75" fill="#00923f" stroke="#231f20" stroke-width="1.95"/>
<rect x="212.55" y="104.3" width="19.8" height="127.7" fill="#ee7f37" stroke="#231f20" stroke-width="1.95"/>
<path d="M83.65 155.1V174.4M80.35 155.1h6.6M80.35 174.4h6.6" stroke="#2a2420" stroke-width="1.1" fill="none"/>
<path d="M125.4 60V88.1M122.1 60h6.6M122.1 88.1h6.6" stroke="#2a2420" stroke-width="1.1" fill="none"/>
<path d="M180.8 138.4V175.3M177.5 138.4h6.6M177.5 175.3h6.6" stroke="#2a2420" stroke-width="1.1" fill="none"/>
<path d="M222.45 94.1V113.4M219.15 94.1h6.6M219.15 113.4h6.6" stroke="#2a2420" stroke-width="1.1" fill="none"/>
<path d="M60.4 10.3V232H254.6M60.4 10.3h4.4M60.4 54.64h4.4M60.4 98.98h4.4M60.4 143.32h4.4M60.4 187.66h4.4" stroke="#231f20" stroke-width="1.7" fill="none"/>
<text x="53" y="16.3" class="tl">250</text>
<text x="53" y="59.96" class="tl">200</text>
<text x="53" y="103.62" class="tl">150</text>
<text x="53" y="147.28" class="tl">100</text>
<text x="53" y="190.94" class="tl">50</text>
<text x="53" y="234.6" class="tl">0</text>
<text transform="translate(74.2,15.7) scale(1,1)" class="ti" style="letter-spacing:0.4px">threonine</text>
<text transform="translate(82.6,252.8) scale(0.88,1)" class="xl">+S</text>
<text transform="translate(124.8,252.8) scale(0.88,1)" class="xl">–S</text>
<text transform="translate(181.3,252.8) scale(0.88,1)" class="xl">+S</text>
<text transform="translate(223.2,252.8) scale(0.88,1)" class="xl">–S</text>
<path d="M67.1 259.5H144.5M157.8 259.5H247.3" stroke="#231f20" stroke-width="1.5" fill="none"/>
<text transform="translate(105.2,278.7) scale(0.88,1)" class="gl">WT</text>
<path d="M162.1 278.3L166.5 267.9" stroke="#555" stroke-width="0.8" fill="none"/><path d="M166.3 267.9L171.0 278.3M161.7 277.7H171.4" stroke="#3a3a3a" stroke-width="1.2" fill="none"/>
<text transform="translate(172.3,278.6) scale(0.88,1)" class="gi">nblA1/A2</text>
</g>
<g transform="translate(0,1248)">
<rect x="73.75" y="56.5" width="19.8" height="175.5" fill="#00923f" stroke="#231f20" stroke-width="1.95"/>
<rect x="115.5" y="72.6" width="19.8" height="159.4" fill="#ee7f37" stroke="#231f20" stroke-width="1.95"/>
<rect x="170.9" y="47.3" width="19.8" height="184.7" fill="#00923f" stroke="#231f20" stroke-width="1.95"/>
<rect x="212.55" y="67.9" width="19.8" height="164.1" fill="#ee7f37" stroke="#231f20" stroke-width="1.95"/>
<path d="M83.65 50.6V61.3M80.35 50.6h6.6M80.35 61.3h6.6" stroke="#2a2420" stroke-width="1.1" fill="none"/>
<path d="M125.4 69.4V75M122.1 69.4h6.6M122.1 75h6.6" stroke="#2a2420" stroke-width="1.1" fill="none"/>
<path d="M180.8 30.6V63.4M177.5 30.6h6.6M177.5 63.4h6.6" stroke="#2a2420" stroke-width="1.1" fill="none"/>
<path d="M222.45 59.6V75.6M219.15 59.6h6.6M219.15 75.6h6.6" stroke="#2a2420" stroke-width="1.1" fill="none"/>
<path d="M60.4 10.3V232H254.6M60.4 10.3h4.4M60.4 34.93h4.4M60.4 59.57h4.4M60.4 84.2h4.4M60.4 108.83h4.4M60.4 133.47h4.4M60.4 158.1h4.4M60.4 182.73h4.4M60.4 207.37h4.4" stroke="#231f20" stroke-width="1.7" fill="none"/>
<text x="53" y="16.3" class="tl">18</text>
<text x="53" y="40.56" class="tl">16</text>
<text x="53" y="64.81" class="tl">14</text>
<text x="53" y="89.07" class="tl">12</text>
<text x="53" y="113.32" class="tl">10</text>
<text x="53" y="137.58" class="tl">8</text>
<text x="53" y="161.83" class="tl">6</text>
<text x="53" y="186.09" class="tl">4</text>
<text x="53" y="210.34" class="tl">2</text>
<text x="53" y="234.6" class="tl">0</text>
<text transform="translate(74.2,15.7) scale(1,1)" class="ti" style="letter-spacing:0.47px">tryptophan</text>
<text transform="translate(82.6,252.8) scale(0.88,1)" class="xl">+S</text>
<text transform="translate(124.8,252.8) scale(0.88,1)" class="xl">–S</text>
<text transform="translate(181.3,252.8) scale(0.88,1)" class="xl">+S</text>
<text transform="translate(223.2,252.8) scale(0.88,1)" class="xl">–S</text>
<path d="M67.1 259.5H144.5M157.8 259.5H247.3" stroke="#231f20" stroke-width="1.5" fill="none"/>
<text transform="translate(105.2,278.7) scale(0.88,1)" class="gl">WT</text>
<path d="M162.1 278.3L166.5 267.9" stroke="#555" stroke-width="0.8" fill="none"/><path d="M166.3 267.9L171.0 278.3M161.7 277.7H171.4" stroke="#3a3a3a" stroke-width="1.2" fill="none"/>
<text transform="translate(172.3,278.6) scale(0.88,1)" class="gi">nblA1/A2</text>
<text transform="translate(13.5,120.8) rotate(-90)" class="yl">amino acid (pmol/mg FW)</text>
</g>
<g transform="translate(256.6,1248)">
<rect x="73.75" y="125.5" width="19.8" height="106.5" fill="#00923f" stroke="#231f20" stroke-width="1.95"/>
<rect x="115.5" y="88" width="19.8" height="144" fill="#ee7f37" stroke="#231f20" stroke-width="1.95"/>
<rect x="170.9" y="114.6" width="19.8" height="117.4" fill="#00923f" stroke="#231f20" stroke-width="1.95"/>
<rect x="212.55" y="83.3" width="19.8" height="148.7" fill="#ee7f37" stroke="#231f20" stroke-width="1.95"/>
<path d="M83.65 114.75V134.1M80.35 114.75h6.6M80.35 134.1h6.6" stroke="#2a2420" stroke-width="1.1" fill="none"/>
<path d="M125.4 75.9V98.8M122.1 75.9h6.6M122.1 98.8h6.6" stroke="#2a2420" stroke-width="1.1" fill="none"/>
<path d="M180.8 92.8V135.9M177.5 92.8h6.6M177.5 135.9h6.6" stroke="#2a2420" stroke-width="1.1" fill="none"/>
<path d="M222.45 29.1V136.9M219.15 29.1h6.6M219.15 136.9h6.6" stroke="#2a2420" stroke-width="1.1" fill="none"/>
<path d="M60.4 10.3V232H254.6M60.4 10.3h4.4M60.4 41.97h4.4M60.4 73.64h4.4M60.4 105.31h4.4M60.4 136.99h4.4M60.4 168.66h4.4M60.4 200.33h4.4" stroke="#231f20" stroke-width="1.7" fill="none"/>
<text x="53" y="16.3" class="tl">70</text>
<text x="53" y="47.49" class="tl">60</text>
<text x="53" y="78.67" class="tl">50</text>
<text x="53" y="109.86" class="tl">40</text>
<text x="53" y="141.04" class="tl">30</text>
<text x="53" y="172.23" class="tl">20</text>
<text x="53" y="203.41" class="tl">10</text>
<text x="53" y="234.6" class="tl">0</text>
<text transform="translate(74.2,15.7) scale(1,1)" class="ti" style="letter-spacing:0.47px">tyrosine</text>
<text transform="translate(82.6,252.8) scale(0.88,1)" class="xl">+S</text>
<text transform="translate(124.8,252.8) scale(0.88,1)" class="xl">–S</text>
<text transform="translate(181.3,252.8) scale(0.88,1)" class="xl">+S</text>
<text transform="translate(223.2,252.8) scale(0.88,1)" class="xl">–S</text>
<path d="M67.1 259.5H144.5M157.8 259.5H247.3" stroke="#231f20" stroke-width="1.5" fill="none"/>
<text transform="translate(105.2,278.7) scale(0.88,1)" class="gl">WT</text>
<path d="M162.1 278.3L166.5 267.9" stroke="#555" stroke-width="0.8" fill="none"/><path d="M166.3 267.9L171.0 278.3M161.7 277.7H171.4" stroke="#3a3a3a" stroke-width="1.2" fill="none"/>
<text transform="translate(172.3,278.6) scale(0.88,1)" class="gi">nblA1/A2</text>
</g>
<g transform="translate(513.1,1248)">
<rect x="73.75" y="152.7" width="19.8" height="79.3" fill="#00923f" stroke="#231f20" stroke-width="1.95"/>
<rect x="115.5" y="104.3" width="19.8" height="127.7" fill="#ee7f37" stroke="#231f20" stroke-width="1.95"/>
<rect x="170.9" y="143.7" width="19.8" height="88.3" fill="#00923f" stroke="#231f20" stroke-width="1.95"/>
<rect x="212.55" y="66.8" width="19.8" height="165.2" fill="#ee7f37" stroke="#231f20" stroke-width="1.95"/>
<path d="M83.65 146.25V157.5M80.35 146.25h6.6M80.35 157.5h6.6" stroke="#2a2420" stroke-width="1.1" fill="none"/>
<path d="M125.4 88.7V118.7M122.1 88.7h6.6M122.1 118.7h6.6" stroke="#2a2420" stroke-width="1.1" fill="none"/>
<path d="M180.8 125.6V160.3M177.5 125.6h6.6M177.5 160.3h6.6" stroke="#2a2420" stroke-width="1.1" fill="none"/>
<path d="M222.45 44.6V87.2M219.15 44.6h6.6M219.15 87.2h6.6" stroke="#2a2420" stroke-width="1.1" fill="none"/>
<path d="M60.4 10.3V232H254.6M60.4 10.3h4.4M60.4 38.01h4.4M60.4 65.72h4.4M60.4 93.44h4.4M60.4 121.15h4.4M60.4 148.86h4.4M60.4 176.57h4.4M60.4 204.29h4.4" stroke="#231f20" stroke-width="1.7" fill="none"/>
<text x="53" y="16.3" class="tl">160</text>
<text x="53" y="43.59" class="tl">140</text>
<text x="53" y="70.88" class="tl">120</text>
<text x="53" y="98.16" class="tl">100</text>
<text x="53" y="125.45" class="tl">80</text>
<text x="53" y="152.74" class="tl">60</text>
<text x="53" y="180.03" class="tl">40</text>
<text x="53" y="207.31" class="tl">20</text>
<text x="53" y="234.6" class="tl">0</text>
<text transform="translate(74.2,15.7) scale(1,1)" class="ti" style="letter-spacing:0.26px">valine</text>
<text transform="translate(82.6,252.8) scale(0.88,1)" class="xl">+S</text>
<text transform="translate(124.8,252.8) scale(0.88,1)" class="xl">–S</text>
<text transform="translate(181.3,252.8) scale(0.88,1)" class="xl">+S</text>
<text transform="translate(223.2,252.8) scale(0.88,1)" class="xl">–S</text>
<path d="M67.1 259.5H144.5M157.8 259.5H247.3" stroke="#231f20" stroke-width="1.5" fill="none"/>
<text transform="translate(105.2,278.7) scale(0.88,1)" class="gl">WT</text>
<path d="M162.1 278.3L166.5 267.9" stroke="#555" stroke-width="0.8" fill="none"/><path d="M166.3 267.9L171.0 278.3M161.7 277.7H171.4" stroke="#3a3a3a" stroke-width="1.2" fill="none"/>
<text transform="translate(172.3,278.6) scale(0.88,1)" class="gi">nblA1/A2</text>
</g>
</svg>
</body></html>
